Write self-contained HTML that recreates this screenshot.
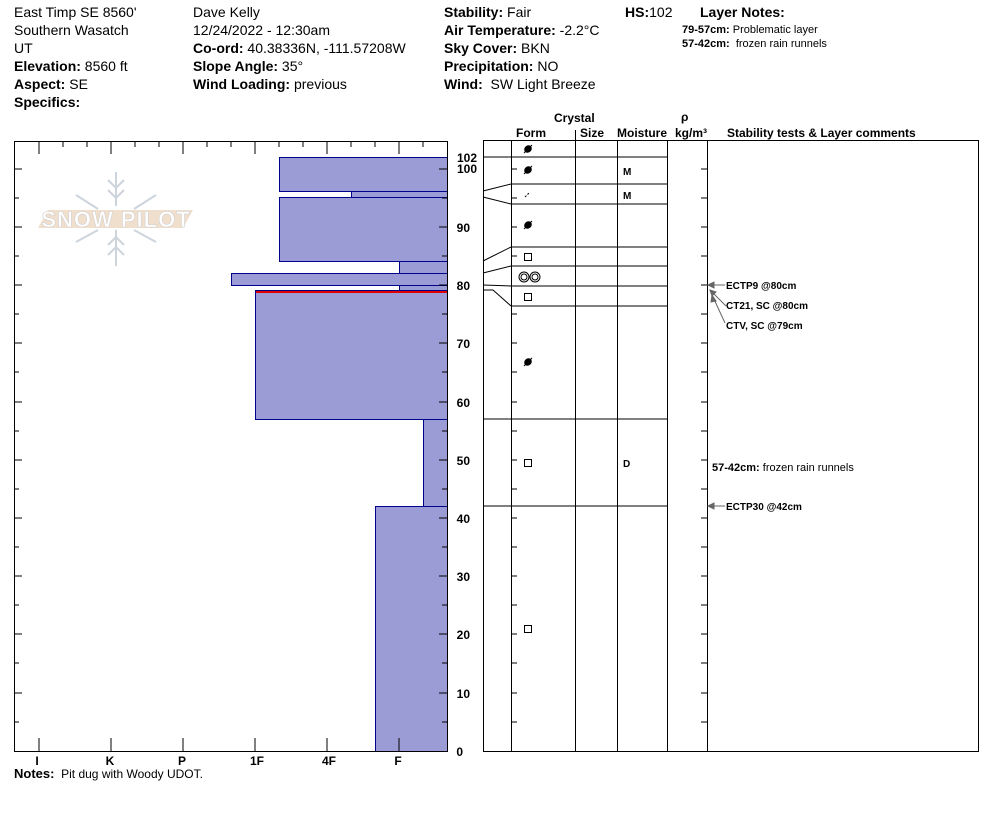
<!DOCTYPE html><html><head><style>
body{margin:0;background:#fff;width:994px;height:840px;overflow:hidden;font-family:"Liberation Sans",Arial,sans-serif;}
.t{position:absolute;font-size:14px;color:#000;white-space:nowrap;}
b{font-weight:bold}
</style></head><body>
<div class="t" style="left:14px;top:3px;line-height:18px">East Timp SE 8560'<br>Southern Wasatch<br>UT<br><b>Elevation:</b> 8560 ft<br><b>Aspect:</b> SE<br><b>Specifics:</b></div>
<div class="t" style="left:193px;top:3px;line-height:18px">Dave Kelly<br>12/24/2022 - 12:30am<br><b>Co-ord:</b> 40.38336N, -111.57208W<br><b>Slope Angle:</b> 35°<br><b>Wind Loading:</b> previous</div>
<div class="t" style="left:444px;top:3px;line-height:18px"><b>Stability:</b> Fair<br><b>Air Temperature:</b> -2.2°C<br><b>Sky Cover:</b> BKN<br><b>Precipitation:</b> NO<br><b>Wind:</b>&nbsp; SW Light Breeze</div>
<div class="t" style="left:625px;top:3px;line-height:18px"><b>HS:</b>102</div>
<div class="t" style="left:700px;top:3px;line-height:18px"><b>Layer Notes:</b></div>
<div class="t" style="left:682px;top:23px;font-size:11px;line-height:14px"><b>79-57cm:</b> Problematic layer<br><b>57-42cm:</b>&nbsp; frozen rain runnels</div>
<div class="t" style="left:14px;top:766px;font-size:12px"><b style="font-size:13px">Notes:</b>&nbsp; Pit dug with Woody UDOT.</div>
<svg width="994" height="840" style="position:absolute;left:0;top:0" font-family="Liberation Sans,Arial,sans-serif">
<g fill="#9b9bd5" stroke="#00008b" stroke-width="1">
<rect x="279.5" y="157.5" width="168" height="34"/>
<rect x="351.5" y="191.5" width="96" height="6"/>
<rect x="279.5" y="197.5" width="168" height="64"/>
<rect x="399.5" y="261.5" width="48" height="12"/>
<rect x="231.5" y="273.5" width="216" height="12"/>
<rect x="399.5" y="285.5" width="48" height="5"/>
<rect x="255.5" y="290.5" width="192" height="129"/>
<rect x="423.5" y="419.5" width="24" height="87"/>
<rect x="375.5" y="506.5" width="72" height="245"/>
</g>
<line x1="256" y1="292" x2="447" y2="292" stroke="#d00" stroke-width="2"/>
<g opacity="0.9">
<polygon points="38,228 48,210 193,210 183,228" fill="#f0dcc8"/>
<text x="116" y="227" font-size="22" fill="#fff" stroke="#ccc" stroke-width="0.6" text-anchor="middle" font-weight="bold" letter-spacing="1">SNOW PILOT</text>
<g stroke="#c8d0d8" stroke-width="2" fill="none"><line x1="116" y1="172" x2="116" y2="206"/><line x1="116" y1="230" x2="116" y2="266"/><path d="M108,180l8,8l8,-8M108,190l8,8l8,-8M108,245l8,-8l8,8M108,255l8,-8l8,8M76,195l22,14M156,195l-22,14M76,242l22,-12M156,242l-22,-12"/></g>
</g>
<rect x="14.5" y="141.5" width="433" height="610" fill="none" stroke="#000"/>
<g stroke="#000">
<path d="M39,141v13M63,141v6M87,141v6M111,141v13M135,141v6M159,141v6M183,141v13M207,141v6M231,141v6M255,141v13M279,141v6M303,141v6M327,141v13M351,141v6M375,141v6M399,141v13M423,141v6M39,751v-13M111,751v-13M183,751v-13M255,751v-13M327,751v-13M399,751v-13"/>
<path d="M14,169h8M14,198h5M14,227h8M14,256h5M14,285h8M14,314h5M14,343h8M14,372h5M14,402h8M14,431h5M14,460h8M14,489h5M14,518h8M14,547h5M14,576h8M14,605h5M14,634h8M14,663h5M14,693h8M14,722h5M447,169h-8M447,198h-5M447,227h-8M447,256h-5M447,285h-8M447,314h-5M447,343h-8M447,372h-5M447,402h-8M447,431h-5M447,460h-8M447,489h-5M447,518h-8M447,547h-5M447,576h-8M447,605h-5M447,634h-8M447,663h-5M447,693h-8M447,722h-5"/>
</g>
<g font-size="12" font-weight="bold" text-anchor="middle">
<text x="37" y="765">I</text><text x="110" y="765">K</text><text x="182" y="765">P</text><text x="257" y="765">1F</text><text x="329" y="765">4F</text><text x="398" y="765">F</text>
</g>
<g font-size="12" font-weight="bold" text-anchor="end">
<text x="477" y="162">102</text><text x="477" y="173">100</text><text x="470" y="232">90</text><text x="470" y="290">80</text><text x="470" y="348">70</text><text x="470" y="407">60</text><text x="470" y="465">50</text><text x="470" y="523">40</text><text x="470" y="581">30</text><text x="470" y="639">20</text><text x="470" y="698">10</text><text x="463" y="756">0</text>
</g>
<g font-size="12" font-weight="bold">
<text x="554" y="122">Crystal</text><text x="516" y="137">Form</text><text x="580" y="137">Size</text><text x="617" y="137">Moisture</text><text x="675" y="137">kg/m³</text><text x="681" y="121">ρ</text><text x="727" y="137">Stability tests &amp; Layer comments</text>
</g>
<rect x="483.5" y="140.5" width="495" height="611" fill="none" stroke="#000"/>
<g stroke="#000" fill="none">
<path d="M511.5,141v611M575.5,130v622M617.5,141v611M667.5,141v611M707.5,141v611"/>
<path d="M483,157h184M511,184h156M511,204h156M511,247h156M511,266h156M511,286h156M511,306h156M483,419h184M483,506h184"/>
<path d="M483,191l28,-7M483,197l28,7M483,261l28,-14M483,273l28,-7M483,285l28,1M483,290l10,0l18,16"/>
<path d="M511,169h6M511,198h6M511,227h6M511,256h6M511,314h6M511,343h6M511,372h6M511,402h6M511,431h6M511,460h6M511,489h6M511,518h6M511,547h6M511,576h6M511,605h6M511,634h6M511,663h6M511,693h6M511,722h6"/>
<path d="M707,169h-6M707,198h-6M707,227h-6M707,256h-6M707,285h-6M707,314h-6M707,343h-6M707,372h-6M707,402h-6M707,431h-6M707,460h-6M707,489h-6M707,518h-6M707,547h-6M707,576h-6M707,605h-6M707,634h-6M707,663h-6M707,693h-6M707,722h-6"/>
<rect x="524.5" y="253.5" width="7" height="7"/><rect x="524.5" y="293.5" width="7" height="7"/><rect x="524.5" y="459.5" width="7" height="7"/><rect x="524.5" y="625.5" width="7" height="7"/>
<circle cx="524" cy="277" r="5"/><circle cx="524" cy="277" r="3"/><circle cx="535" cy="277" r="5"/><circle cx="535" cy="277" r="3"/>
<path d="M525,197l5,-5" stroke-dasharray="2,1.5"/>
</g>
<g fill="#000" stroke="#000">
<ellipse cx="528" cy="149" rx="3.5" ry="3" transform="rotate(-40 528 149)"/><line x1="524" y1="153" x2="532" y2="145"/>
<ellipse cx="528" cy="170" rx="3.5" ry="3" transform="rotate(-40 528 170)"/><line x1="524" y1="174" x2="532" y2="166"/>
<ellipse cx="528" cy="225" rx="3.5" ry="3" transform="rotate(-40 528 225)"/><line x1="524" y1="229" x2="532" y2="221"/>
<ellipse cx="528" cy="362" rx="3.5" ry="3" transform="rotate(-40 528 362)"/><line x1="524" y1="366" x2="532" y2="358"/>
</g>
<g font-size="10" font-weight="bold"><text x="623" y="175">M</text><text x="623" y="199">M</text><text x="623" y="467">D</text></g>
<g stroke="#666" fill="#666">
<path d="M709,285h16" fill="none"/><polygon points="708,285 714,282 714,288"/>
<path d="M711,291l15,15" fill="none"/><polygon points="710,290 716,292 712,296"/>
<path d="M713,297l12,26" fill="none"/><polygon points="712,295 716,301 711,302"/>
<path d="M709,506h16" fill="none"/><polygon points="708,506 714,503 714,509"/>
</g>
<g font-size="10" font-weight="bold"><text x="726" y="289">ECTP9 @80cm</text><text x="726" y="309">CT21, SC @80cm</text><text x="726" y="329">CTV, SC @79cm</text><text x="726" y="510">ECTP30 @42cm</text></g>
<text x="712" y="471" font-size="11"><tspan font-weight="bold">57-42cm:</tspan> frozen rain runnels</text>
</svg>
</body></html>
